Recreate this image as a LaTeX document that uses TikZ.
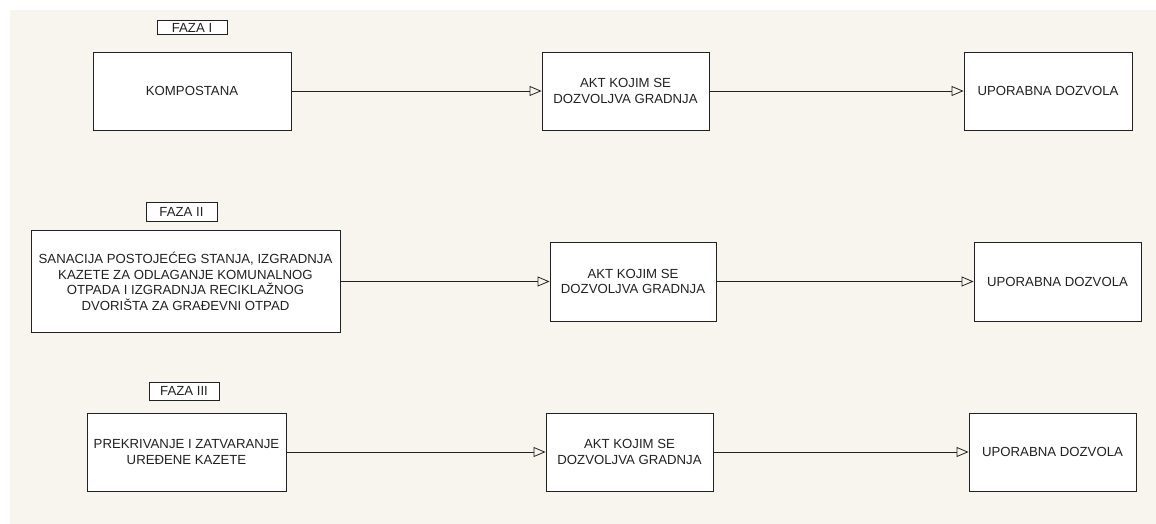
\documentclass[tikz,border=0pt]{standalone}
\usepackage{fontspec}
\setmainfont{Liberation Sans}
\usetikzlibrary{arrows.meta}
\definecolor{bg}{RGB}{248,245,238}
\definecolor{ink}{RGB}{34,34,34}
\begin{document}
\begin{tikzpicture}[x=1pt,y=-1pt,
  box/.style={draw=ink, line width=0.9pt, fill=white, inner sep=0pt, align=center,
    text=ink, font=\fontsize{13.2}{15.5}\selectfont},
  tag/.style={box, line width=0.8pt},
  arr/.style={draw=ink, line width=0.8pt, -{Triangle[open, length=12pt, width=10pt, line width=0.8pt]}}]
\useasboundingbox (0,0) rectangle (1156,524);
\fill[white] (0,0) rectangle (1156,524);
\fill[bg] (10,10) rectangle (1156,524);

% Row 1
\node[tag, minimum width=70pt, minimum height=13.5pt] (f1) at (192,27.5) {FAZA I};
\node[box, minimum width=198pt, minimum height=78pt] (komp) at (192,91) {KOMPOSTANA};
\node[box, minimum width=167pt, minimum height=78pt] (akt1) at (625.5,91) {AKT KOJIM SE\\DOZVOLJVA GRADNJA};
\node[box, minimum width=168pt, minimum height=78pt] (up1) at (1048,91) {UPORABNA DOZVOLA};

% Row 2
\node[tag, minimum width=71pt, minimum height=19pt] (f2) at (181.5,211.5) {FAZA II};
\node[box, minimum width=309pt, minimum height=102pt] (san) at (185.5,281.5) {SANACIJA POSTOJEĆEG STANJA, IZGRADNJA\\KAZETE ZA ODLAGANJE KOMUNALNOG\\OTPADA I IZGRADNJA RECIKLAŽNOG\\DVORIŠTA ZA GRAĐEVNI OTPAD};
\node[box, minimum width=166pt, minimum height=79pt] (akt2) at (633,281.5) {AKT KOJIM SE\\DOZVOLJVA GRADNJA};
\node[box, minimum width=167pt, minimum height=79pt] (up2) at (1057.5,281.5) {UPORABNA DOZVOLA};

% Row 3
\node[tag, minimum width=70pt, minimum height=18pt] (f3) at (184,391) {FAZA III};
\node[box, minimum width=199pt, minimum height=78pt] (prek) at (186.5,452) {PREKRIVANJE I ZATVARANJE\\UREĐENE KAZETE};
\node[box, minimum width=167pt, minimum height=78pt] (akt3) at (629.5,452) {AKT KOJIM SE\\DOZVOLJVA GRADNJA};
\node[box, minimum width=167pt, minimum height=78pt] (up3) at (1052.5,452) {UPORABNA DOZVOLA};

% Connectors
\draw[arr] (komp.east) -- (akt1.west);
\draw[arr] (akt1.east) -- (up1.west);
\draw[arr] (san.east) -- (akt2.west);
\draw[arr] (akt2.east) -- (up2.west);
\draw[arr] (prek.east) -- (akt3.west);
\draw[arr] (akt3.east) -- (up3.west);
\end{tikzpicture}
\end{document}
